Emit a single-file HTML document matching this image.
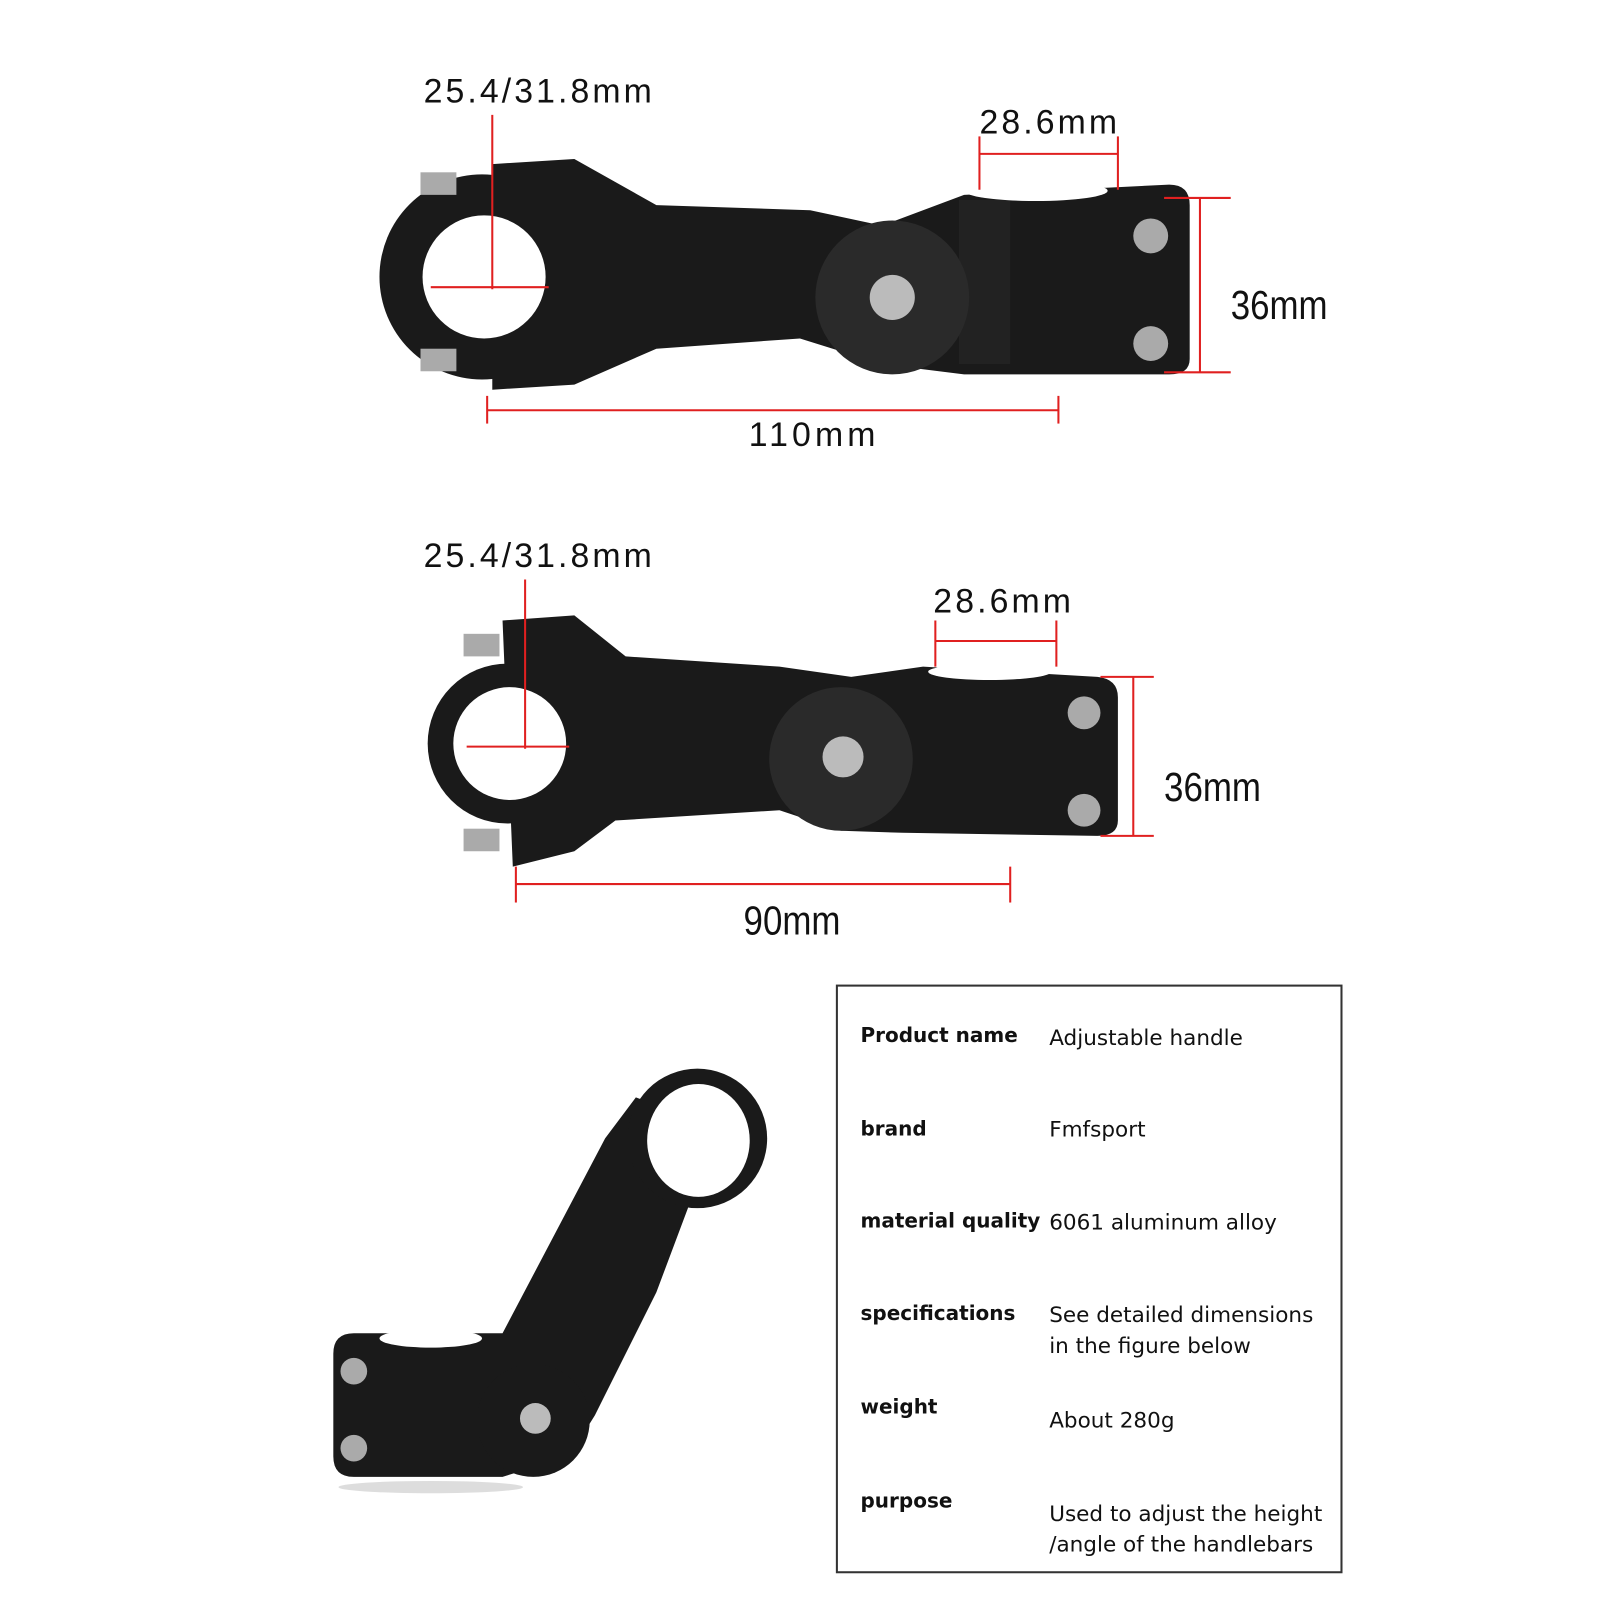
<!DOCTYPE html>
<html><head><meta charset="utf-8"><style>
body{margin:0;background:#fff;}
.o{position:relative;width:1600px;height:1600px;overflow:hidden;}
.w{position:absolute;left:0;top:0;width:1600px;height:1600px;transform:scale(1.0256);transform-origin:0 0;font-family:"Liberation Sans",sans-serif;}
.t{position:absolute;color:#111;white-space:nowrap;}
.tab{position:absolute;left:815px;top:960px;width:490px;height:570px;border:2px solid #333;}
.r{position:absolute;font-size:21px;color:#111;line-height:30px;font-family:"DejaVu Sans",sans-serif;white-space:nowrap;}
.l{left:22px;font-weight:bold;font-size:19.5px;}
.v{left:206px;}
</style></head><body><div class="o"><div class="w">
<svg width="1600" height="1600" style="position:absolute;left:0;top:0">
<g fill="#1a1a1a">
<circle cx="470" cy="270" r="100"/>
<path d="M480 160 L560 155 L640 200 L790 205 L860 220 L940 190 L1140 180 Q1160 180 1160 200 L1160 350 Q1160 365 1140 365 L940 365 L860 355 L780 330 L640 340 L560 375 L480 380 Z"/>
<rect x="935" y="195" width="50" height="160" fill="#222"/>
</g>
<ellipse cx="1010" cy="186" rx="70" ry="10" fill="#fff"/>
<circle cx="472" cy="270" r="60" fill="#fff"/>
<circle cx="870" cy="290" r="75" fill="#2a2a2a"/>
<circle cx="870" cy="290" r="22" fill="#bbb"/>
<circle cx="1122" cy="230" r="17" fill="#aaa"/><circle cx="1122" cy="335" r="17" fill="#aaa"/>
<rect x="410" y="168" width="35" height="22" fill="#aaa"/><rect x="410" y="340" width="35" height="22" fill="#aaa"/>
<g fill="#1a1a1a">
<circle cx="495" cy="725" r="78"/>
<path d="M490 605 L560 600 L610 640 L760 650 L830 660 L900 650 L1070 660 Q1090 662 1090 680 L1090 800 Q1090 815 1070 815 L880 812 L820 810 L760 790 L600 800 L560 830 L500 845 Z"/>
</g>
<ellipse cx="965" cy="655" rx="60" ry="8" fill="#fff"/>
<circle cx="497" cy="725" r="55" fill="#fff"/>
<circle cx="820" cy="740" r="70" fill="#2a2a2a"/>
<circle cx="822" cy="738" r="20" fill="#bbb"/>
<circle cx="1057" cy="695" r="16" fill="#aaa"/><circle cx="1057" cy="790" r="16" fill="#aaa"/>
<rect x="452" y="618" width="35" height="22" fill="#aaa"/><rect x="452" y="808" width="35" height="22" fill="#aaa"/>
<g fill="#1a1a1a">
<path d="M325 1320 Q325 1300 345 1300 L490 1300 L590 1110 L620 1070 L700 1100 L640 1260 L580 1380 L555 1420 L490 1440 L345 1440 Q325 1440 325 1420 Z"/>
<circle cx="680" cy="1110" r="68"/>
<circle cx="520" cy="1385" r="55"/>
</g>
<ellipse cx="681" cy="1112" rx="50" ry="55" fill="#fff"/>
<ellipse cx="420" cy="1305" rx="50" ry="9" fill="#fff"/>
<circle cx="522" cy="1383" r="15" fill="#bbb"/>
<circle cx="345" cy="1337" r="13" fill="#aaa"/><circle cx="345" cy="1412" r="13" fill="#aaa"/>
<ellipse cx="420" cy="1450" rx="90" ry="6" fill="#ddd"/>
<g stroke="#e02020" stroke-width="2" fill="none">
<line x1="480" y1="112" x2="480" y2="282"/><line x1="420" y1="280" x2="535" y2="280"/>
<line x1="955" y1="150" x2="1090" y2="150"/><line x1="955" y1="133" x2="955" y2="185"/><line x1="1090" y1="133" x2="1090" y2="185"/>
<line x1="1170" y1="193" x2="1170" y2="363"/><line x1="1135" y1="193" x2="1200" y2="193"/><line x1="1135" y1="363" x2="1200" y2="363"/>
<line x1="475" y1="400" x2="1032" y2="400"/><line x1="475" y1="386" x2="475" y2="413"/><line x1="1032" y1="386" x2="1032" y2="413"/>
<line x1="512" y1="565" x2="512" y2="730"/><line x1="455" y1="728" x2="555" y2="728"/>
<line x1="912" y1="625" x2="1030" y2="625"/><line x1="912" y1="605" x2="912" y2="650"/><line x1="1030" y1="605" x2="1030" y2="650"/>
<line x1="1105" y1="660" x2="1105" y2="815"/><line x1="1073" y1="660" x2="1125" y2="660"/><line x1="1073" y1="815" x2="1125" y2="815"/>
<line x1="503" y1="862" x2="985" y2="862"/><line x1="503" y1="845" x2="503" y2="880"/><line x1="985" y1="845" x2="985" y2="880"/>
</g>
</svg>
<div class="t" style="left:413px;top:70px;font-size:33px;letter-spacing:3px">25.4/31.8mm</div>
<div class="t" style="left:955px;top:100px;font-size:33px;letter-spacing:3px">28.6mm</div>
<div class="t" style="left:1200px;top:276px;font-size:40px;transform:scaleX(0.85);transform-origin:left">36mm</div>
<div class="t" style="left:730px;top:405px;font-size:33px;letter-spacing:4px">110mm</div>
<div class="t" style="left:413px;top:523px;font-size:33px;letter-spacing:3px">25.4/31.8mm</div>
<div class="t" style="left:910px;top:567px;font-size:33px;letter-spacing:3px">28.6mm</div>
<div class="t" style="left:1135px;top:746px;font-size:40px;transform:scaleX(0.85);transform-origin:left">36mm</div>
<div class="t" style="left:725px;top:876px;font-size:40px;transform:scaleX(0.85);transform-origin:left">90mm</div>
<div class="tab">
<div class="r l" style="top:33px">Product name</div><div class="r v" style="top:35px">Adjustable handle</div>
<div class="r l" style="top:124px">brand</div><div class="r v" style="top:124px">Fmfsport</div>
<div class="r l" style="top:214px">material quality</div><div class="r v" style="top:215px">6061 aluminum alloy</div>
<div class="r l" style="top:304px">specifications</div><div class="r v" style="top:305px">See detailed dimensions<br>in the figure below</div>
<div class="r l" style="top:395px">weight</div><div class="r v" style="top:408px">About 280g</div>
<div class="r l" style="top:487px">purpose</div><div class="r v" style="top:499px">Used to adjust the height<br>/angle of the handlebars</div>
</div>
</div></div></body></html>
